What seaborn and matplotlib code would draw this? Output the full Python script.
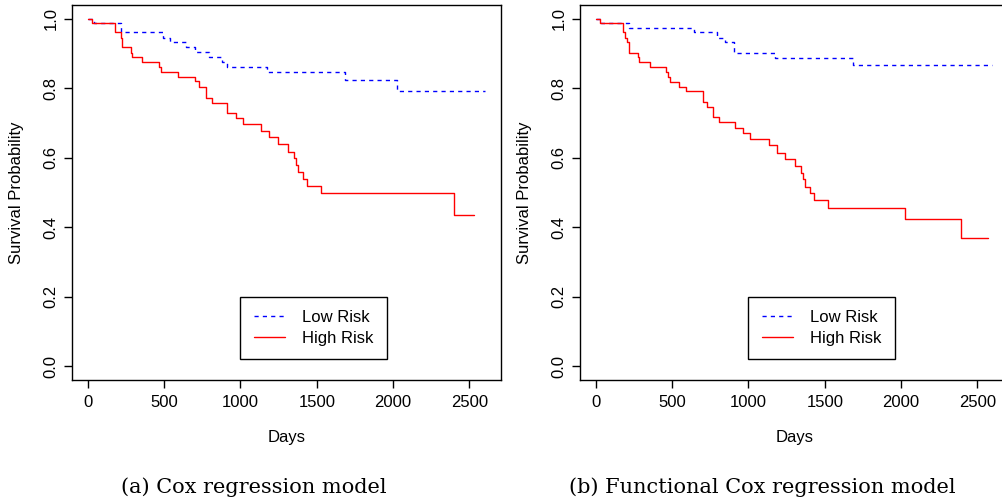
import numpy as np
import pandas as pd
import matplotlib
matplotlib.use('Agg')
import matplotlib.pyplot as plt
import seaborn as sns

# Kaplan-Meier step values (days, survival)
cox_low_days = [0, 39, 214, 493, 535, 640, 705, 796, 882, 911, 1174, 1686, 2029, 2603]
cox_low_surv = [1.0, 0.988, 0.961, 0.946, 0.934, 0.919, 0.905, 0.890, 0.876, 0.861,
                0.847, 0.824, 0.792, 0.792]

cox_high_days = [0, 24, 181, 219, 225, 280, 286, 356, 465, 476, 591, 705, 727, 775,
                 814, 912, 971, 1017, 1135, 1189, 1246, 1309, 1348, 1366, 1377, 1407,
                 1436, 1527, 2400, 2533]
cox_high_surv = [1.0, 0.988, 0.961, 0.946, 0.918, 0.903, 0.889, 0.876, 0.862, 0.848,
                 0.833, 0.820, 0.804, 0.773, 0.759, 0.728, 0.714, 0.696, 0.677, 0.660,
                 0.639, 0.618, 0.598, 0.578, 0.559, 0.538, 0.519, 0.498, 0.435, 0.435]

fcox_low_days = [0, 35, 214, 640, 793, 845, 907, 1175, 1688, 2594]
fcox_low_surv = [1.0, 0.988, 0.975, 0.961, 0.946, 0.932, 0.903, 0.887, 0.866, 0.866]

fcox_high_days = [0, 24, 175, 190, 207, 216, 273, 282, 354, 459, 474, 487, 542, 590,
                  701, 727, 770, 806, 913, 967, 1011, 1133, 1186, 1240, 1306, 1345,
                  1360, 1371, 1404, 1432, 1524, 2027, 2393, 2568]
fcox_high_surv = [1.0, 0.988, 0.961, 0.946, 0.932, 0.903, 0.889, 0.877, 0.862, 0.848,
                  0.833, 0.819, 0.804, 0.791, 0.761, 0.747, 0.718, 0.702, 0.686, 0.670,
                  0.653, 0.636, 0.615, 0.596, 0.576, 0.557, 0.538, 0.517, 0.498, 0.477,
                  0.456, 0.425, 0.370, 0.370]

captions = ['(a) Cox regression model', '(b) Functional Cox regression model']
xticks = [0, 500, 1000, 1500, 2000, 2500]
yticks = [0.0, 0.2, 0.4, 0.6, 0.8, 1.0]

sns.set_style('ticks')
plt.rcParams['font.family'] = ['Liberation Sans', 'DejaVu Sans']
plt.rcParams['axes.linewidth'] = 1.0
plt.rcParams['axes.edgecolor'] = 'black'
plt.rcParams['text.color'] = 'black'
plt.rcParams['axes.labelcolor'] = 'black'
plt.rcParams['xtick.color'] = 'black'
plt.rcParams['ytick.color'] = 'black'

fig = plt.figure(figsize=(10.02, 4.98), dpi=100)
ax_a = fig.add_axes([72 / 1002, 118 / 498, 428.5 / 1002, 375 / 498])
ax_b = fig.add_axes([580 / 1002, 118 / 498, 428.5 / 1002, 375 / 498])

panels = [
    (ax_a, cox_low_days, cox_low_surv, cox_high_days, cox_high_surv),
    (ax_b, fcox_low_days, fcox_low_surv, fcox_high_days, fcox_high_surv),
]

for ax, ld, ls, hd, hs in panels:
    low = pd.DataFrame({'Days': ld, 'Survival': ls})
    high = pd.DataFrame({'Days': hd, 'Survival': hs})
    sns.lineplot(data=low, x='Days', y='Survival', ax=ax, color='blue', lw=1.0,
                 drawstyle='steps-post', estimator=None, sort=False,
                 label='Low Risk')
    ax.lines[-1].set_dashes((3, 3))
    sns.lineplot(data=high, x='Days', y='Survival', ax=ax, color='red', lw=1.0,
                 drawstyle='steps-post', estimator=None, sort=False,
                 label='High Risk')

    ax.set_xlim(-104, 2704)
    ax.set_ylim(-0.04, 1.04)
    ax.set_xticks(xticks)
    ax.set_yticks(yticks)
    ax.set_yticklabels([f'{v:.1f}' for v in yticks], rotation=90, va='center')
    ax.tick_params(direction='out', length=6, width=1.0, labelsize=12, pad=3.5,
                   color='black', labelcolor='black')
    ax.tick_params(axis='x', pad=5)
    ax.set_xlabel('Days', fontsize=12, labelpad=14)
    ax.set_ylabel('Survival Probability', fontsize=12, labelpad=14)
    for sp in ax.spines.values():
        sp.set_visible(True)

    # R legend placed at x=1000, y=0.2
    leg = ax.legend(loc='upper left', bbox_to_anchor=(1000, 0.2),
                    bbox_transform=ax.transData, borderaxespad=0,
                    fontsize=12, frameon=True, fancybox=False, shadow=False,
                    handlelength=1.9, handletextpad=1.0, labelspacing=0.35,
                    borderpad=0.8)
    leg.get_frame().set_edgecolor('black')
    leg.get_frame().set_linewidth(1.0)
    leg.get_frame().set_alpha(1)

fig.text(254 / 1002, 1 - 487 / 498, captions[0], ha='center', va='center',
         family='DejaVu Serif', fontsize=15)
fig.text(762 / 1002, 1 - 487 / 498, captions[1], ha='center', va='center',
         family='DejaVu Serif', fontsize=15)

fig.savefig('out.png', dpi=100)
